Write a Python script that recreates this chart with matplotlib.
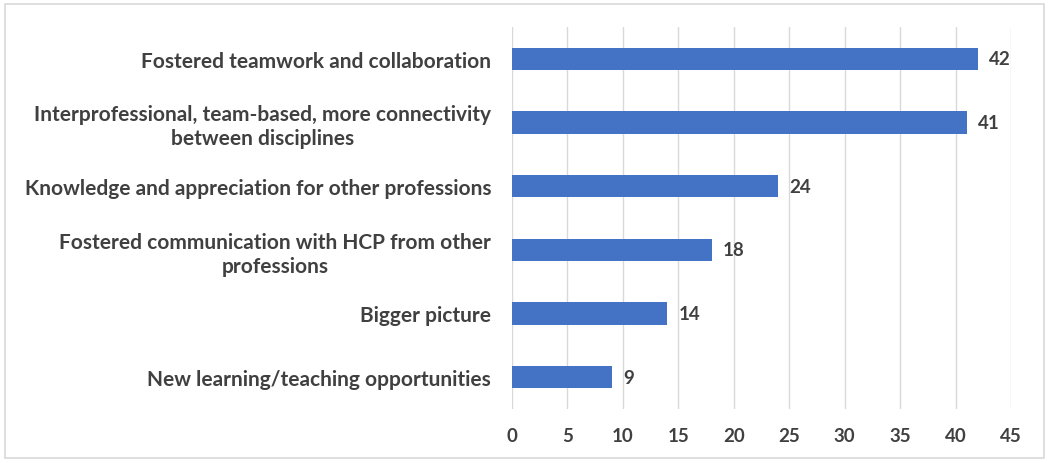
import matplotlib.pyplot as plt
from matplotlib.patches import Rectangle

labels = ['Fostered teamwork and collaboration',
          'Interprofessional, team-based, more connectivity\nbetween disciplines',
          'Knowledge and appreciation for other professions',
          'Fostered communication with HCP from other\nprofessions',
          'Bigger picture',
          'New learning/teaching opportunities']
values = [42, 41, 24, 18, 14, 9]
xticks = [0, 5, 10, 15, 20, 25, 30, 35, 40, 45]

plt.rcParams['font.family'] = ['Lato', 'DejaVu Sans']
text_color = '#404040'

fig = plt.figure(figsize=(10.5, 4.64), dpi=100)
ax = fig.add_axes([0.4876, 0.1164, 0.4753, 0.8233])

ypos = list(range(len(values)))
ax.barh(ypos, values, height=0.35, color='#4472C4', zorder=3)
for y, v in zip(ypos, values):
    ax.text(v + 1.0, y, str(v), va='center', ha='left', fontsize=13.5,
            fontweight='bold', color=text_color)

ax.set_ylim(len(values) - 0.5, -0.5)
ax.set_xlim(0, 45)
ax.set_xticks(xticks)
ax.set_yticks(ypos)
ax.set_yticklabels(labels, fontsize=15, fontweight='bold', color=text_color,
                   multialignment='center', linespacing=1.25)
ax.tick_params(axis='y', length=0, pad=15)
ax.tick_params(axis='x', length=0, pad=13, labelsize=13.5, labelcolor=text_color)
for t in ax.get_xticklabels():
    t.set_fontweight('bold')
ax.grid(axis='x', color='#D9D9D9', linewidth=1, zorder=0)
for s in ax.spines.values():
    s.set_visible(False)

fig.patches.append(Rectangle((0.005, 0.011), 0.989, 0.978, transform=fig.transFigure,
                             fill=False, edgecolor='#D9D9D9', linewidth=1.2))

plt.savefig('out.png', dpi=100)
